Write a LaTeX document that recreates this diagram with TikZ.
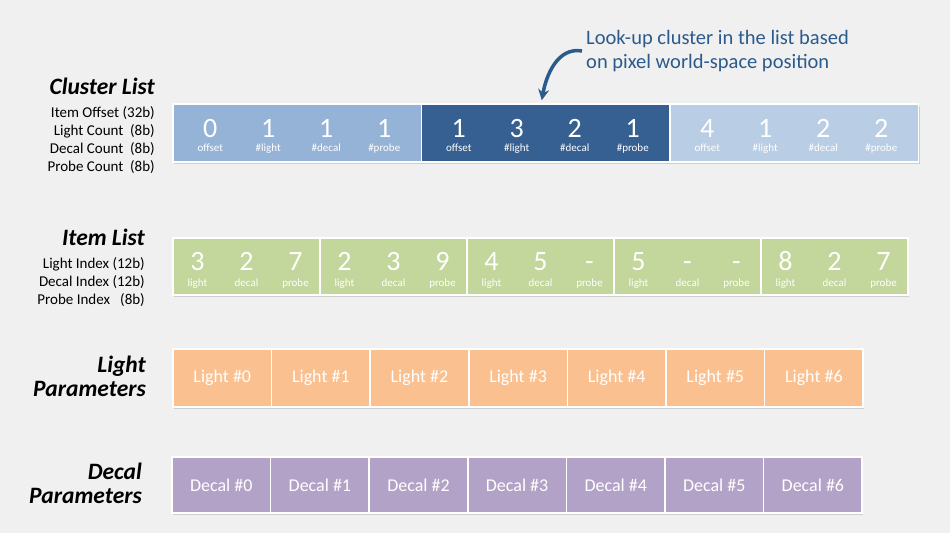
\documentclass[tikz,border=0pt]{standalone}
\usepackage{fontspec}
\setmainfont{Carlito}
\usetikzlibrary{shadows,arrows.meta}
\definecolor{bgc}{HTML}{F0F0F0}
\definecolor{clA}{HTML}{95B3D7}
\definecolor{clB}{HTML}{366092}
\definecolor{clC}{HTML}{B9CDE5}
\definecolor{itemc}{HTML}{C3D69B}
\definecolor{lightc}{HTML}{FAC090}
\definecolor{decalc}{HTML}{B3A2C7}
\definecolor{notec}{HTML}{2B5A8C}

\tikzset{
  cell/.style={draw=white, line width=1.5pt, inner sep=0pt,
    drop shadow={shadow xshift=1pt, shadow yshift=-1.5pt, opacity=.3}},
  num/.style={text=white, inner sep=0pt, anchor=base, font=\fontsize{28}{28}\selectfont},
  tag/.style={text=white, inner sep=0pt, anchor=base, font=\fontsize{11}{11}\selectfont},
  param/.style={text=white, font=\fontsize{18}{18}\selectfont},
  title/.style={anchor=east, align=right, inner sep=0pt, font=\fontsize{23.5}{24}\selectfont\bfseries\itshape},
  field/.style={anchor=east, align=right, inner sep=0pt, font=\fontsize{15}{18}\selectfont},
}

\begin{document}
\begin{tikzpicture}[x=1pt,y=-1pt]
\fill[bgc] (0,0) rectangle (950,533);

% cluster list
\node[title] (cltitle) at (155,86) {Cluster List};
\node[field] (clfields) at (155,140) {Item Offset (32b)\\Light Count\ \ (8b)\\Decal Count\ \ (8b)\\Probe Count\ \ (8b)};
\foreach \i/\col/\va/\vb/\vc/\vd in {1/clA/0/1/1/1, 2/clB/1/3/2/1, 3/clC/4/1/2/2}{
  \node[cell, fill=\col, minimum width=248.5pt, minimum height=58pt] (c\i) at ({297.25+248.5*(\i-1)},133) {};
  \foreach \v/\t [count=\k] in {\va/offset, \vb/\#light, \vc/\#decal, \vd/\#probe}{
    \node[num] (c\i n\k) at ({297.25+248.5*(\i-1)+58*(\k-2.5)},137) {\v};
    \node[tag] (c\i t\k) at ({297.25+248.5*(\i-1)+58*(\k-2.5)},151.5) {\t};
  }
}

% item list
\node[title] (ittitle) at (145,237) {Item List};
\node[field] (itfields) at (145,282) {Light Index (12b)\\Decal Index (12b)\\Probe Index\ \ \ (8b)};
\foreach \i/\va/\vb/\vc in {1/3/2/7, 2/2/3/9, 3/4/5/-, 4/5/-/-, 5/8/2/7}{
  \node[cell, fill=itemc, minimum width=147pt, minimum height=57pt] (it\i) at ({246.5+147*(\i-1)},266.5) {};
  \foreach \v/\t [count=\k] in {\va/light, \vb/decal, \vc/probe}{
    \node[num] (it\i n\k) at ({246.5+147*(\i-1)+49*(\k-2)},270.5) {\v};
    \node[tag] (it\i t\k) at ({246.5+147*(\i-1)+49*(\k-2)},286.5) {\t};
  }
}

% parameters
\node[title] (lptitle) at (146,376.5) {Light\\Parameters};
\node[title] (dptitle) at (142,483.5) {Decal\\Parameters};
\foreach \i in {0,...,6}{
  \node[cell, param, fill=lightc, minimum width=98.6pt, minimum height=58pt] (lp\i) at ({222.3+98.6*\i},378) {Light \#\i};
  \node[cell, param, fill=decalc, minimum width=98.6pt, minimum height=56pt] (dp\i) at ({221.3+98.6*\i},485) {Decal \#\i};
}

% look-up note
\node[anchor=west, align=left, inner sep=0pt, text=notec, font=\fontsize{20.5}{24}\selectfont] (note) at (586,51) {Look-up cluster in the list based\\on pixel world-space position};
\draw[notec, line width=3.5pt, -{Stealth[length=11pt,width=11pt]}] ([xshift=-4pt]note.west) to[out=170,in=80] ([xshift=-4pt,yshift=3pt]c2.north);
\end{tikzpicture}
\end{document}
